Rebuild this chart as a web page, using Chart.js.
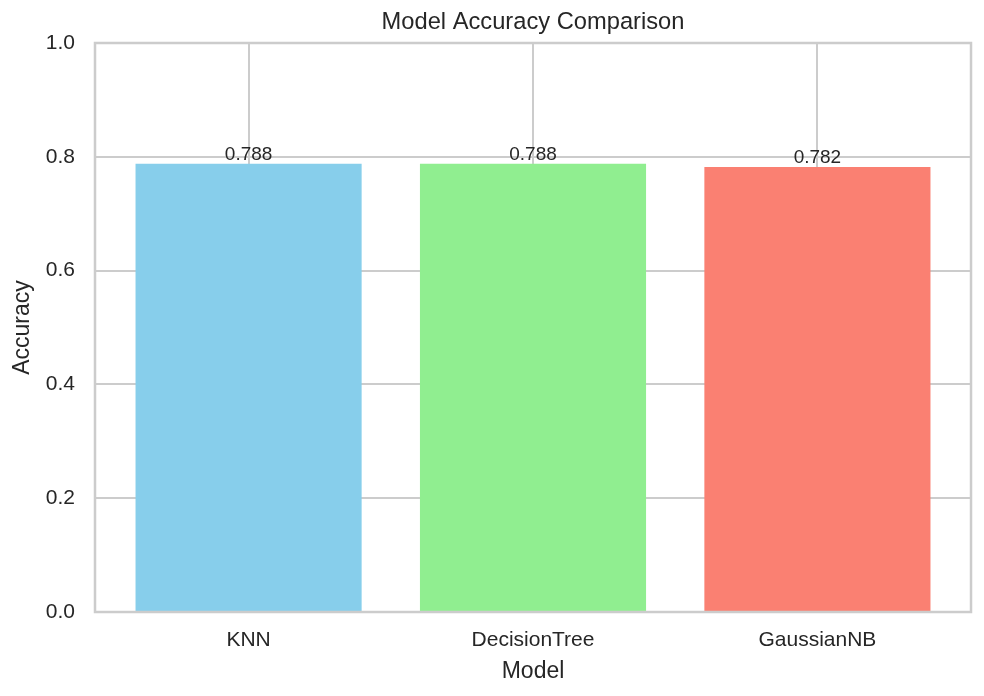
<!DOCTYPE html>
<html>
<head>
<meta charset="utf-8">
<script src="https://cdn.jsdelivr.net/npm/chart.js@4.4.1/dist/chart.umd.min.js"></script>
<style>
  html, body { margin: 0; padding: 0; background: #fff; }
  #chart { display: block; }
</style>
</head>
<body>
<canvas id="chart" width="984" height="696"></canvas>
<script>
const models = ['KNN', 'DecisionTree', 'GaussianNB'];
const accuracies = [0.788, 0.788, 0.782];
const barColors = ['#87CEEB', '#90EE90', '#FA8072'];

const textColor = '#262626';
const gridColor = '#cccccc';
const fontFamily = "'Liberation Sans', Arial, sans-serif";

// cadre complet autour de la zone du graphique
const frame = {
    id: 'frame',
    afterDatasetsDraw(chart) {
        const { ctx, chartArea: a } = chart;
        ctx.save();
        ctx.strokeStyle = gridColor;
        ctx.lineWidth = 2.5;
        ctx.strokeRect(a.left, a.top, a.right - a.left, a.bottom - a.top);
        ctx.restore();
    }
};

// valeurs au-dessus des barres
const barLabels = {
    id: 'barLabels',
    afterDatasetsDraw(chart) {
        const { ctx } = chart;
        const meta = chart.getDatasetMeta(0);
        ctx.save();
        ctx.font = '19px ' + fontFamily;
        ctx.fillStyle = textColor;
        ctx.textAlign = 'center';
        ctx.textBaseline = 'alphabetic';
        meta.data.forEach((bar, i) => {
            ctx.fillText(accuracies[i].toFixed(3), bar.x, bar.y - 4);
        });
        ctx.restore();
    }
};

const config = {
    type: 'bar',
    data: {
        datasets: [{
            data: models.map((m, i) => ({ x: i, y: accuracies[i] })),
            backgroundColor: barColors,
            borderWidth: 0,
            categoryPercentage: 1,
            barPercentage: 0.795
        }]
    },
    options: {
        responsive: false,
        animation: false,
        devicePixelRatio: 1,
        layout: { padding: { left: 0, right: 13, top: 0, bottom: 0 } },
        scales: {
            x: {
                type: 'linear',
                min: -0.54,
                max: 2.54,
                offset: false,
                afterBuildTicks: scale => {
                    scale.ticks = models.map((m, i) => ({ value: i }));
                },
                afterFit: scale => { scale.height = 84; },
                ticks: {
                    callback: v => models[v],
                    font: { family: fontFamily, size: 21 },
                    color: textColor,
                    padding: 16,
                    maxRotation: 0,
                    autoSkip: false
                },
                grid: { color: gridColor, lineWidth: 2, drawTicks: false, offset: false },
                border: { display: false },
                title: {
                    display: true,
                    text: 'Model',
                    font: { family: fontFamily, size: 23 },
                    color: textColor,
                    padding: { top: 0, bottom: 11 }
                }
            },
            y: {
                min: 0,
                max: 1,
                afterFit: scale => { scale.width = 95; },
                ticks: {
                    stepSize: 0.2,
                    callback: v => v.toFixed(1),
                    font: { family: fontFamily, size: 21 },
                    color: textColor,
                    padding: 20
                },
                grid: { color: gridColor, lineWidth: 2, drawTicks: false },
                border: { display: false },
                title: {
                    display: true,
                    text: 'Accuracy',
                    font: { family: fontFamily, size: 23 },
                    color: textColor,
                    padding: { top: 9, bottom: 0 }
                }
            }
        },
        plugins: {
            legend: { display: false },
            tooltip: { enabled: false },
            title: {
                display: true,
                text: 'Model Accuracy Comparison',
                fullSize: false,
                font: { family: fontFamily, size: 23.7, weight: 'normal' },
                color: textColor,
                padding: { top: 8, bottom: 6.56 }
            }
        }
    },
    plugins: [frame, barLabels]
};

new Chart(document.getElementById('chart').getContext('2d'), config);
</script>
</body>
</html>
